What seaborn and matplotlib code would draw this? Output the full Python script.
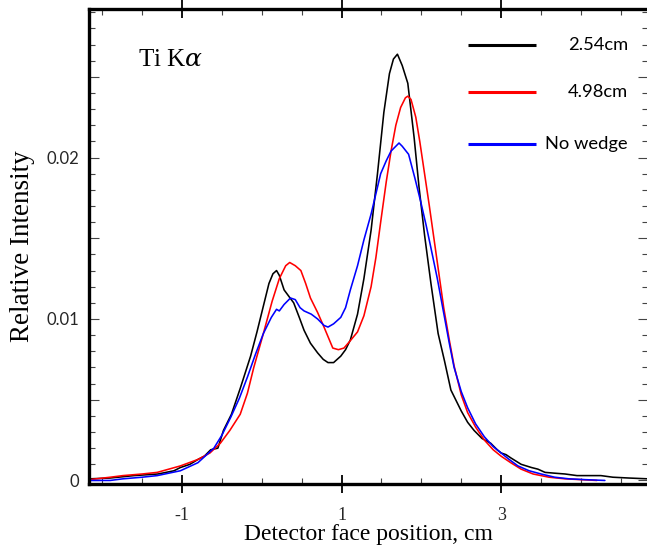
import numpy as np
import pandas as pd
import matplotlib
matplotlib.use("Agg")
import matplotlib.pyplot as plt
import seaborn as sns
from matplotlib.ticker import FixedLocator, MultipleLocator, FuncFormatter

# ---------------- data ----------------
series_names = ["2.54cm", "4.98cm", "No wedge"]
series_colors = ["#000000", "#ff0000", "#0000ff"]

x_black = [-2.16, -1.9, -1.6, -1.3, -1.1, -1.02, -0.9, -0.8, -0.72, -0.64, -0.55, -0.48,
           -0.38, -0.27, -0.14, -0.06, 0.02, 0.09, 0.14, 0.185, 0.22, 0.28, 0.34, 0.40,
           0.47, 0.53, 0.61, 0.70, 0.77, 0.83, 0.90, 0.99, 1.05, 1.11, 1.20, 1.28, 1.37,
           1.45, 1.53, 1.60, 1.65, 1.70, 1.76, 1.83, 1.91, 1.97, 2.04, 2.12, 2.21,
           2.29, 2.37, 2.44, 2.50, 2.58, 2.66, 2.76, 2.87, 2.95, 3.0, 3.06, 3.12, 3.25,
           3.38, 3.46, 3.55, 3.67, 3.8, 3.95, 4.09, 4.25, 4.4, 4.6, 4.84]
y_black = [0.0001, 0.00015, 0.0003, 0.0004, 0.0006, 0.0008, 0.0010, 0.0013, 0.0015, 0.0019, 0.0020, 0.0031,
           0.0041, 0.0057, 0.0077, 0.0092, 0.0108, 0.0122, 0.0128, 0.0130, 0.0127, 0.0118, 0.0114, 0.0110,
           0.0101, 0.0093, 0.0085, 0.0079, 0.0075, 0.0073, 0.0073, 0.0077, 0.0081, 0.0087, 0.0103, 0.0125, 0.0155,
           0.0190, 0.0228, 0.0252, 0.0261, 0.0264, 0.0257, 0.0246, 0.0212, 0.0182, 0.0152, 0.0122, 0.0091,
           0.0074, 0.0056, 0.0049, 0.0043, 0.0036, 0.0031, 0.0026, 0.0023, 0.0019, 0.0017, 0.0016, 0.0014, 0.0010,
           0.0008, 0.0007, 0.0005, 0.00045, 0.0004, 0.0003, 0.0003, 0.0003, 0.0002, 0.00015, 0.0001]

x_red = [-2.16, -1.9, -1.74, -1.5, -1.31, -1.02, -0.8, -0.65, -0.52, -0.4, -0.27, -0.18,
         -0.10, 0.02, 0.13, 0.22, 0.30, 0.35, 0.42, 0.49, 0.55, 0.61, 0.70, 0.78, 0.89,
         0.96, 1.03, 1.10, 1.20, 1.28, 1.37, 1.43, 1.49, 1.56, 1.62, 1.68, 1.74, 1.80,
         1.83, 1.87, 1.93, 1.98, 2.04, 2.10, 2.16, 2.22, 2.28, 2.35, 2.41, 2.50, 2.58,
         2.68, 2.79, 2.9, 3.0, 3.12, 3.25, 3.4, 3.6, 3.8, 4.0, 4.2]
y_red = [0.00005, 0.0002, 0.0003, 0.0004, 0.0005, 0.0009, 0.0013, 0.0017, 0.0023, 0.0031, 0.0041, 0.0054,
         0.0070, 0.0091, 0.0111, 0.0125, 0.0133, 0.0135, 0.0133, 0.0130, 0.0122, 0.0113, 0.0104, 0.0095, 0.0082,
         0.0081, 0.0082, 0.0086, 0.0092, 0.0102, 0.0120, 0.0138, 0.0160, 0.0185, 0.0204, 0.0220, 0.0231, 0.0237,
         0.0238, 0.0236, 0.0225, 0.0210, 0.0190, 0.0170, 0.0149, 0.0128, 0.0107, 0.0087, 0.0071, 0.0053, 0.0042,
         0.0033, 0.0025, 0.0019, 0.0015, 0.0011, 0.0007, 0.0004, 0.0002, 0.0001, 0.00005, 0.0]

x_blue = [-2.16, -1.9, -1.74, -1.5, -1.31, -1.02, -0.8, -0.6, -0.5, -0.39, -0.28, -0.18,
          -0.08, 0.02, 0.12, 0.185, 0.22, 0.28, 0.36, 0.42, 0.48, 0.53, 0.62, 0.70, 0.78,
          0.83, 0.90, 0.99, 1.05, 1.11, 1.20, 1.28, 1.37, 1.49, 1.56, 1.62, 1.68, 1.72,
          1.76, 1.84, 1.92, 1.99, 2.06, 2.12, 2.20, 2.29, 2.35, 2.41, 2.50, 2.58, 2.68,
          2.79, 2.9, 3.0, 3.1, 3.21, 3.35, 3.5, 3.67, 3.85, 4.05, 4.3]
y_blue = [0.0, 0.0, 0.0001, 0.0002, 0.0003, 0.0006, 0.0011, 0.0020, 0.0028, 0.0039, 0.0051, 0.0064,
          0.0078, 0.0091, 0.0101, 0.0106, 0.0105, 0.0109, 0.0113, 0.0112, 0.0107, 0.0105, 0.0103, 0.0100, 0.0096,
          0.0095, 0.0097, 0.0101, 0.0107, 0.0118, 0.0133, 0.0149, 0.0165, 0.0190, 0.0198, 0.0204, 0.0207, 0.0209,
          0.0207, 0.0202, 0.0187, 0.0173, 0.0158, 0.0144, 0.0125, 0.0101, 0.0085, 0.0070, 0.0055, 0.0045, 0.0035,
          0.0027, 0.0021, 0.0017, 0.0013, 0.0009, 0.0006, 0.0004, 0.0002, 0.0001, 0.00005, 0.0]

x_major_ticks = [-1, 1, 3]
y_major_ticks = [0.0, 0.005, 0.01, 0.015, 0.02, 0.025]
y_tick_labels = {0.0: "0", 0.01: "0.01", 0.02: "0.02"}

# ---------------- figure ----------------
sns.set_theme(style="white")
plt.rcParams["mathtext.fontset"] = "dejavuserif"

fig = plt.figure(figsize=(6.47, 5.46), dpi=100)
ax = fig.add_axes([89 / 647, 62 / 546, 559 / 647, 475 / 546])

df = pd.concat([
    pd.DataFrame({"x": x_black, "y": y_black, "s": series_names[0]}),
    pd.DataFrame({"x": x_red, "y": y_red, "s": series_names[1]}),
    pd.DataFrame({"x": x_blue, "y": y_blue, "s": series_names[2]}),
])
sns.lineplot(data=df, x="x", y="y", hue="s", palette=dict(zip(series_names, series_colors)),
             estimator=None, sort=False, linewidth=1.15, legend=False, ax=ax)

ax.set_xlim(-2.165, 4.84)
ax.set_ylim(-0.00022, 0.0292)

for side in ["left", "bottom", "top"]:
    ax.spines[side].set_linewidth(2.4)
    ax.spines[side].set_color("black")
ax.spines["right"].set_visible(False)

ax.xaxis.set_major_locator(FixedLocator(x_major_ticks))
ax.xaxis.set_minor_locator(MultipleLocator(0.5))
ax.yaxis.set_major_locator(FixedLocator(y_major_ticks))
ax.yaxis.set_minor_locator(MultipleLocator(0.001))
ax.yaxis.set_major_formatter(FuncFormatter(
    lambda v, p: next((lab for k, lab in y_tick_labels.items() if abs(k - v) < 1e-9), "")))
ax.xaxis.set_major_formatter(FuncFormatter(lambda v, p: f"{v:g}"))

ax.tick_params(axis="x", which="major", direction="inout", length=13, width=1.3,
               color="black", top=True, bottom=True, pad=10, labelsize=12)
ax.tick_params(axis="x", which="minor", direction="in", length=4, width=0.8,
               color="#444444", top=True, bottom=True)
ax.tick_params(axis="y", which="major", direction="in", length=7, width=0.8,
               color="#444444", left=True, right=True, pad=7, labelsize=12)
ax.tick_params(axis="y", which="minor", direction="in", length=4, width=0.8,
               color="#444444", left=True, right=True)
for lab in ax.get_xticklabels():
    lab.set_fontfamily("Liberation Serif")
    lab.set_fontsize(13)
for lab in ax.get_yticklabels():
    lab.set_fontfamily("Lato")
    lab.set_fontsize(12)

ax.set_xlabel("Detector face position, cm", fontfamily="Liberation Serif", fontsize=17,
              labelpad=0, color="black")
ax.set_ylabel("Relative Intensity", fontfamily="Liberation Serif", fontsize=19.5,
              labelpad=8, color="black")

ax.text(0.087, 0.893, r"Ti K$\alpha$", transform=ax.transAxes, fontsize=18,
        fontfamily="Liberation Serif", va="center", ha="left", color="black")

# manual legend
leg_y = [0.924, 0.825, 0.716]
for name, col, yy in zip(series_names, series_colors, leg_y):
    ax.plot([0.678, 0.80], [yy, yy], transform=ax.transAxes, color=col, lw=2.2,
            solid_capstyle="butt")
    ax.text(0.964, yy, name, transform=ax.transAxes, ha="right", va="center",
            fontsize=13.2, fontfamily="Lato", color="black")

fig.savefig("out.png", dpi=100)
